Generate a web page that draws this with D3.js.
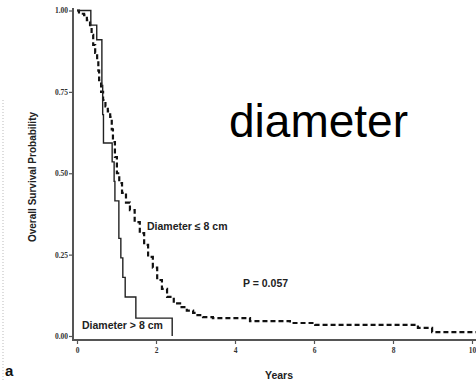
<!DOCTYPE html>
<html>
<head>
<meta charset="utf-8">
<script src="https://cdn.jsdelivr.net/npm/d3@7"></script>
<style>
  body { margin: 0; background: #fff; }
  svg { display: block; }
</style>
</head>
<body>
<div id="chart"></div>
<script>
// Kaplan-Meier steps (years, survival probability)
var bigTimes = [0, 0.35, 0.5, 0.63, 0.65, 0.67, 0.89, 0.94, 0.96, 1.06, 1.11, 1.16, 1.22, 1.49, 2.41];
var bigSurv  = [1.0, 0.955, 0.91, 0.77, 0.68, 0.593, 0.535, 0.475, 0.415, 0.30, 0.24, 0.18, 0.12, 0.055, 0.0];

var smallTimes = [0, 0.05, 0.18, 0.25, 0.33, 0.37, 0.41, 0.46, 0.51, 0.54, 0.56, 0.61, 0.66, 0.72, 0.78, 0.84, 0.88, 0.91, 0.96, 1.01, 1.07, 1.14, 1.24, 1.34, 1.46, 1.59, 1.70, 1.80, 1.92, 2.03, 2.15, 2.28, 2.45, 2.61, 2.78, 2.94, 3.05, 3.19, 3.44, 4.38, 5.39, 6.03, 8.63, 8.99, 10.1];
var smallSurv  = [1.0, 0.99, 0.986, 0.97, 0.955, 0.925, 0.894, 0.87, 0.848, 0.815, 0.786, 0.75, 0.725, 0.705, 0.69, 0.673, 0.635, 0.596, 0.55, 0.50, 0.47, 0.44, 0.41, 0.387, 0.35, 0.316, 0.28, 0.243, 0.21, 0.172, 0.145, 0.12, 0.10, 0.089, 0.078, 0.071, 0.064, 0.058, 0.055, 0.046, 0.040, 0.034, 0.025, 0.012, 0.012];

var xTicks = [0, 2, 4, 6, 8, 10];
var yTicks = [0, 0.25, 0.5, 0.75, 1.0];
var yTickLabels = ["0.00", "0.25", "0.50", "0.75", "1.00"];

var w = 476, h = 382;
var sans = "'Liberation Sans', Arial, sans-serif";

var svg = d3.select("#chart").append("svg").attr("width", w).attr("height", h);

var x = d3.scaleLinear().domain([0, 10]).range([77, 472]);
var y = d3.scaleLinear().domain([0, 1]).range([336, 10.5]);

// faint dotted strip at the left edge of the scan
svg.append("line")
    .attr("x1", 3).attr("x2", 3).attr("y1", 100).attr("y2", 382)
    .attr("stroke", "#ddd").attr("stroke-width", 2).attr("stroke-dasharray", "1,2");

// axes
var xAxis = d3.axisBottom(x).tickValues(xTicks).tickSize(4).tickSizeOuter(0).tickFormat(d3.format("d"));
var gx = svg.append("g").attr("transform", "translate(0,340)").call(xAxis);
gx.select(".domain").attr("d", "M73,0H476").attr("stroke", "#555").attr("stroke-width", 2);
gx.selectAll(".tick line").attr("stroke", "#555").attr("stroke-width", 1.2);
gx.selectAll(".tick text").attr("y", 8)
    .style("font-family", "'Liberation Serif', serif").style("font-weight", "bold")
    .style("font-size", "7.5px").attr("fill", "#333");

var yAxis = d3.axisLeft(y).tickValues(yTicks).tickSize(4).tickSizeOuter(0)
    .tickFormat(function(d, i) { return yTickLabels[i]; });
var gy = svg.append("g").attr("transform", "translate(73,0)").call(yAxis);
gy.select(".domain").attr("d", "M0,8V341").attr("stroke", "#555").attr("stroke-width", 2);
gy.selectAll(".tick line").attr("stroke", "#555").attr("stroke-width", 1.2);
gy.selectAll(".tick text").attr("x", -5)
    .style("font-family", "'Liberation Serif', serif").style("font-weight", "bold")
    .style("font-size", "7.5px").attr("fill", "#333");

// curves
var line = d3.line()
    .x(function(d) { return x(d[0]); })
    .y(function(d) { return y(d[1]); })
    .curve(d3.curveStepAfter);

var bigData = bigTimes.map(function(t, i) { return [t, bigSurv[i]]; });
var smallData = smallTimes.map(function(t, i) { return [t, smallSurv[i]]; });

svg.append("path").datum(smallData).attr("d", line)
    .attr("fill", "none").attr("stroke", "#111").attr("stroke-width", 2.2)
    .attr("stroke-dasharray", "5,3");

svg.append("path").datum(bigData).attr("d", line)
    .attr("fill", "none").attr("stroke", "#222").attr("stroke-width", 1.4);

// labels
svg.append("text").attr("x", 147).attr("y", 230)
    .text("Diameter \u2264 8 cm")
    .style("font-family", sans).style("font-weight", "bold").style("font-size", "10.5px").attr("fill", "#222");

svg.append("text").attr("x", 243).attr("y", 287)
    .text("P = 0.057")
    .style("font-family", sans).style("font-weight", "bold").style("font-size", "10.5px").attr("fill", "#222");

svg.append("text").attr("x", 82).attr("y", 329)
    .text("Diameter > 8 cm")
    .style("font-family", sans).style("font-weight", "bold").style("font-size", "10.5px").attr("fill", "#222");

svg.append("text").attr("x", 229).attr("y", 137)
    .text("diameter")
    .style("font-family", sans).style("font-size", "46px").attr("fill", "#000");

svg.append("text").attr("x", 279).attr("y", 379).attr("text-anchor", "middle")
    .text("Years")
    .style("font-family", sans).style("font-weight", "bold").style("font-size", "10.5px").attr("fill", "#222");

svg.append("text")
    .attr("transform", "translate(36,177) rotate(-90)").attr("text-anchor", "middle")
    .text("Overall Survival Probability")
    .style("font-family", sans).style("font-weight", "bold").style("font-size", "10px").attr("fill", "#222");

svg.append("text").attr("x", 5).attr("y", 376)
    .text("a")
    .style("font-family", sans).style("font-weight", "bold").style("font-size", "15px").attr("fill", "#111");
</script>
</body>
</html>
